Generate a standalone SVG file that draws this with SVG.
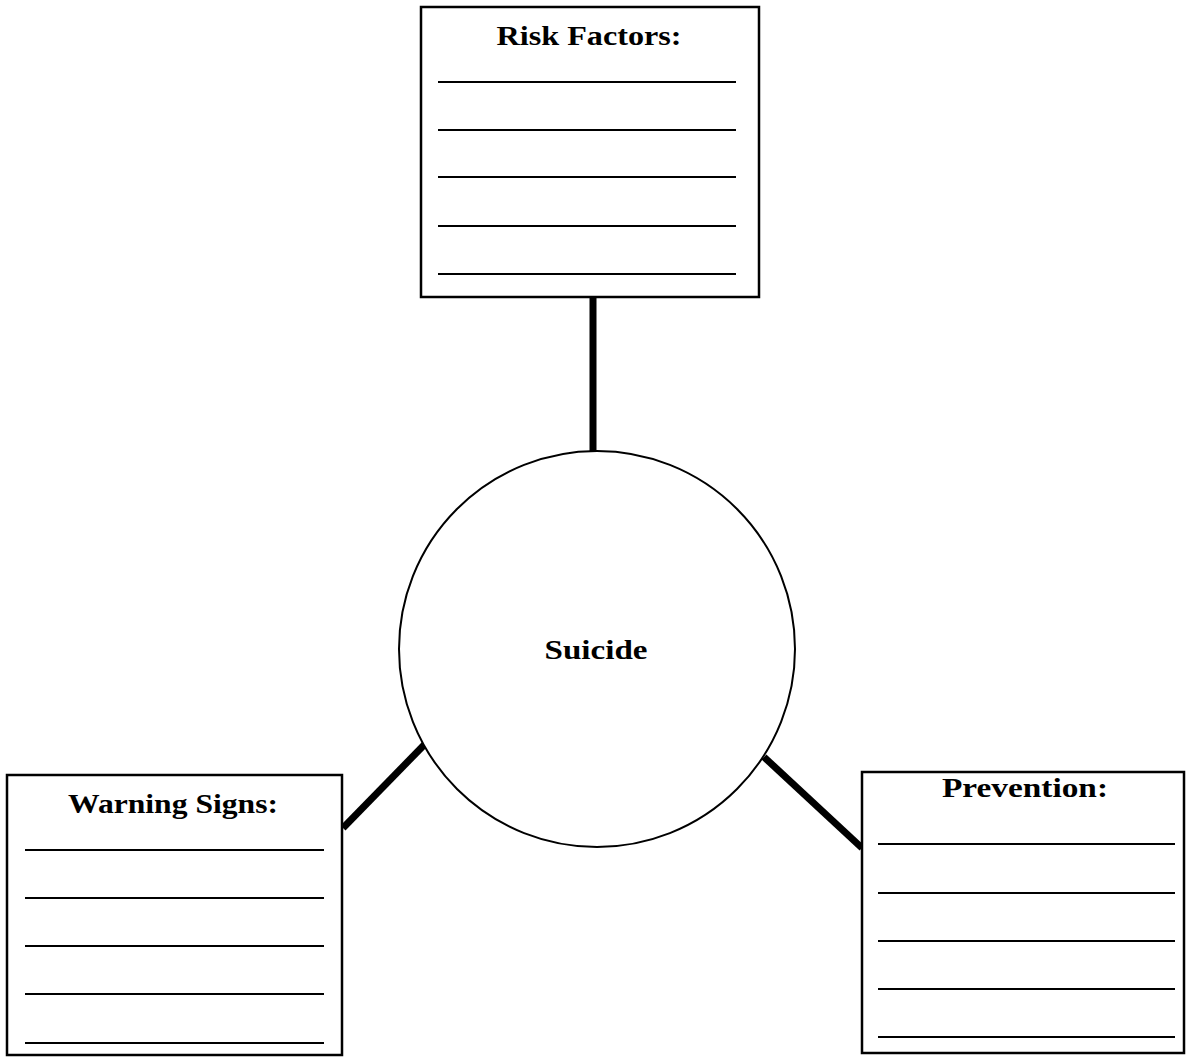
<svg xmlns="http://www.w3.org/2000/svg" width="1187" height="1059" viewBox="0 0 1187 1059">
<style>
.box{fill:#fff;stroke:#000;stroke-width:2.5}
.rule{stroke:#000;stroke-width:2}
.conn{stroke:#000;stroke-width:7;fill:none}
.title{font-family:"Liberation Serif","Times New Roman",serif;font-weight:bold;font-size:28px;fill:#000;text-anchor:middle}
</style>
<rect width="1187" height="1059" fill="#fff"/>
<g id="connectors">
<line class="conn" x1="593" y1="297" x2="593" y2="452"/>
<line class="conn" x1="425" y1="744" x2="343" y2="828"/>
<line class="conn" x1="764" y1="757" x2="862" y2="848"/>
</g>
<g id="node-suicide">
<circle cx="597" cy="649" r="198" fill="#fff" stroke="#000" stroke-width="2"/>
<text class="title" x="596" y="659" font-size="30" textLength="103" lengthAdjust="spacingAndGlyphs">Suicide</text>
</g>
<g id="node-risk-factors">
<rect class="box" x="421" y="7" width="338" height="290"/>
<text class="title" x="589" y="45" textLength="185" lengthAdjust="spacingAndGlyphs">Risk Factors:</text>
<line class="rule" x1="438" y1="82" x2="736" y2="82"/>
<line class="rule" x1="438" y1="130" x2="736" y2="130"/>
<line class="rule" x1="438" y1="177" x2="736" y2="177"/>
<line class="rule" x1="438" y1="226" x2="736" y2="226"/>
<line class="rule" x1="438" y1="274" x2="736" y2="274"/>
</g>
<g id="node-warning-signs">
<rect class="box" x="7" y="775" width="335" height="280"/>
<text class="title" x="173" y="813" textLength="210" lengthAdjust="spacingAndGlyphs">Warning Signs:</text>
<line class="rule" x1="25" y1="850" x2="324" y2="850"/>
<line class="rule" x1="25" y1="898" x2="324" y2="898"/>
<line class="rule" x1="25" y1="946" x2="324" y2="946"/>
<line class="rule" x1="25" y1="994" x2="324" y2="994"/>
<line class="rule" x1="25" y1="1043" x2="324" y2="1043"/>
</g>
<g id="node-prevention">
<rect class="box" x="862" y="772" width="322" height="281"/>
<text class="title" x="1025" y="797" textLength="166" lengthAdjust="spacingAndGlyphs">Prevention:</text>
<line class="rule" x1="878" y1="844" x2="1175" y2="844"/>
<line class="rule" x1="878" y1="893" x2="1175" y2="893"/>
<line class="rule" x1="878" y1="941" x2="1175" y2="941"/>
<line class="rule" x1="878" y1="989" x2="1175" y2="989"/>
<line class="rule" x1="878" y1="1037" x2="1175" y2="1037"/>
</g>
</svg>
